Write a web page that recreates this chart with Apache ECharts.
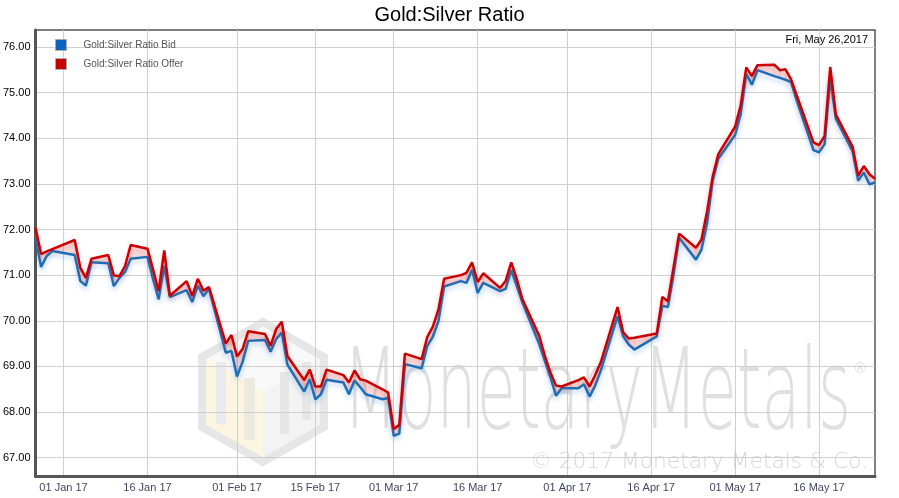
<!DOCTYPE html>
<html>
<head>
<meta charset="utf-8">
<script src="https://cdn.jsdelivr.net/npm/echarts@6/dist/echarts.min.js"></script>
<style>html,body{margin:0;padding:0;background:#fff;}#c{width:899px;height:498px;}</style>
</head>
<body>
<div id="c"></div>
<script>
const dates = ['2016-12-27','2016-12-28','2016-12-29','2016-12-30','2017-01-03','2017-01-04','2017-01-05','2017-01-06','2017-01-09','2017-01-10','2017-01-11','2017-01-12','2017-01-13','2017-01-16','2017-01-17','2017-01-18','2017-01-19','2017-01-20','2017-01-23','2017-01-24','2017-01-25','2017-01-26','2017-01-27','2017-01-30','2017-01-31','2017-02-01','2017-02-02','2017-02-03','2017-02-06','2017-02-07','2017-02-08','2017-02-09','2017-02-10','2017-02-13','2017-02-14','2017-02-15','2017-02-16','2017-02-17','2017-02-20','2017-02-21','2017-02-22','2017-02-23','2017-02-24','2017-02-27','2017-02-28','2017-03-01','2017-03-02','2017-03-03','2017-03-06','2017-03-07','2017-03-08','2017-03-09','2017-03-10','2017-03-13','2017-03-14','2017-03-15','2017-03-16','2017-03-17','2017-03-20','2017-03-21','2017-03-22','2017-03-23','2017-03-24','2017-03-27','2017-03-28','2017-03-29','2017-03-30','2017-03-31','2017-04-03','2017-04-04','2017-04-05','2017-04-06','2017-04-07','2017-04-10','2017-04-11','2017-04-12','2017-04-13','2017-04-17','2017-04-18','2017-04-19','2017-04-20','2017-04-21','2017-04-24','2017-04-25','2017-04-26','2017-04-27','2017-04-28','2017-05-01','2017-05-02','2017-05-03','2017-05-04','2017-05-05','2017-05-08','2017-05-09','2017-05-10','2017-05-11','2017-05-12','2017-05-15','2017-05-16','2017-05-17','2017-05-18','2017-05-19','2017-05-22','2017-05-23','2017-05-24','2017-05-25','2017-05-26'];

const bid = [71.80,71.18,71.42,71.53,71.44,70.87,70.77,71.28,71.26,70.76,70.94,71.07,71.36,71.40,70.91,70.47,71.20,70.52,70.67,70.41,70.77,70.54,70.70,69.30,69.34,68.78,69.10,69.56,69.58,69.32,69.60,69.74,69.04,68.45,68.72,68.28,68.39,68.71,68.65,68.39,68.69,68.55,68.39,68.28,68.31,67.48,67.53,69.05,68.96,69.45,69.65,70.00,70.75,70.87,70.83,71.12,70.61,70.83,70.65,70.70,71.11,70.76,70.40,69.49,69.12,68.76,68.36,68.52,68.52,68.61,68.34,68.58,68.91,70.10,69.66,69.48,69.37,69.66,70.33,70.30,71.01,71.82,71.34,71.56,72.14,73.07,73.55,74.07,74.52,75.41,75.17,75.49,75.36,75.32,75.28,75.23,74.83,73.74,73.69,73.87,75.32,74.43,73.71,73.07,73.25,72.99,73.03];

const offer = [72.04,71.46,71.52,71.57,71.77,71.16,70.94,71.36,71.44,70.99,70.98,71.20,71.66,71.58,71.12,70.65,71.54,70.55,70.87,70.54,70.92,70.66,70.74,69.50,69.69,69.22,69.38,69.77,69.71,69.45,69.82,69.98,69.23,68.70,68.93,68.56,68.56,68.93,68.81,68.65,68.91,68.72,68.69,68.50,68.43,67.63,67.72,69.28,69.16,69.65,69.87,70.25,70.92,71.00,71.05,71.28,70.85,71.04,70.72,70.87,71.28,70.91,70.47,69.67,69.23,68.87,68.58,68.56,68.70,68.76,68.56,68.81,69.09,70.30,69.75,69.61,69.63,69.72,70.52,70.43,71.17,71.91,71.60,71.78,72.40,73.16,73.65,74.25,74.72,75.55,75.36,75.60,75.61,75.49,75.51,75.29,74.94,73.91,73.85,74.05,75.56,74.52,73.81,73.18,73.39,73.21,73.11];

const xTickDates = ['2017-01-01','2017-01-16','2017-02-01','2017-02-15','2017-03-01','2017-03-16','2017-04-01','2017-04-16','2017-05-01','2017-05-16'];
const yTicks = [67,68,69,70,71,72,73,74,75,76];
const monthNames = ['Jan','Feb','Mar','Apr','May','Jun','Jul','Aug','Sep','Oct','Nov','Dec'];
const titleText = 'Gold:Silver Ratio';
const bidName = 'Gold:Silver Ratio Bid';
const offerName = 'Gold:Silver Ratio Offer';
const dateLabel = 'Fri, May 26,2017';
const xMin = '2016-12-27';
const xMax = '2017-05-26';
const yMin = 66.6;
const yMax = 76.37;

const ts = s => echarts.number.parseDate(s).getTime();
const pad = n => (n < 10 ? '0' : '') + n;
const fmtDate = v => { const d = new Date(v); return pad(d.getDate()) + ' ' + monthNames[d.getMonth()] + ' ' + String(d.getFullYear()).slice(2); };

const bidData = dates.map((d, i) => [ts(d), bid[i]]);
const offerData = dates.map((d, i) => [ts(d), offer[i]]);
const bandData = dates.map((d, i) => [ts(d), bid[i], offer[i]]);
const xTicks = xTickDates.map(ts);

const mctx = document.createElement('canvas').getContext('2d');
const wmFont = '"DejaVu Sans", "Liberation Sans", sans-serif';
mctx.font = '200 112px ' + wmFont;
const wmW = mctx.measureText('MonetaryMetals').width;
mctx.font = '200 22px ' + wmFont;
const cpW = mctx.measureText('© 2017 Monetary Metals & Co.').width;

const chart = echarts.init(document.getElementById('c'), null, {renderer: 'canvas'});

const hexCx = 263, hexTop = 322, hexHalfW = 61, hexSide = 70;
const p = {
  t: [hexCx, hexTop],
  ul: [hexCx - hexHalfW, hexTop + hexSide / 2],
  ll: [hexCx - hexHalfW, hexTop + hexSide / 2 + hexSide],
  b: [hexCx, hexTop + 2 * hexSide],
  lr: [hexCx + hexHalfW, hexTop + hexSide / 2 + hexSide],
  ur: [hexCx + hexHalfW, hexTop + hexSide / 2],
  c: [hexCx, hexTop + hexSide]
};

function renderBand(params, api) {
  const i = params.dataIndex;
  if (i >= bandData.length - 1) return null;
  const a1 = api.coord([bandData[i][0], bandData[i][1]]);
  const b1 = api.coord([bandData[i][0], bandData[i][2]]);
  const a2 = api.coord([bandData[i + 1][0], bandData[i + 1][1]]);
  const b2 = api.coord([bandData[i + 1][0], bandData[i + 1][2]]);
  return {
    type: 'polygon',
    shape: {points: [b1, b2, a2, a1]},
    style: {fill: 'rgba(232,120,120,0.25)', stroke: 'rgba(232,120,120,0.25)', lineWidth: 0.5}
  };
}

const option = {
  backgroundColor: '#fff',
  animation: false,
  title: {
    text: titleText, left: 'center', top: 0,
    textStyle: {fontFamily: 'Liberation Sans, Arial, sans-serif', fontSize: 20, fontWeight: 'normal', color: '#000'}
  },
  legend: {
    data: [bidName, offerName],
    orient: 'vertical', left: 50, top: 34,
    itemWidth: 11, itemHeight: 11, itemGap: 7, icon: 'rect',
    itemStyle: {borderColor: '#aaa', borderWidth: 1},
    textStyle: {fontFamily: 'Liberation Sans, Arial, sans-serif', fontSize: 10, color: '#555', padding: [0, 0, 0, 12]}
  },
  grid: {left: 33, right: 24, top: 30, bottom: 22, show: true, borderColor: '#555', borderWidth: 1.5, containLabel: false},
  xAxis: {
    type: 'value', min: ts(xMin), max: ts(xMax),
    axisLine: {show: true, lineStyle: {color: '#555', width: 3}},
    axisTick: {show: false, customValues: xTicks},
    axisLabel: {customValues: xTicks, formatter: fmtDate, color: '#444460', fontSize: 11, margin: 6, fontFamily: 'Liberation Sans, Arial, sans-serif'},
    splitLine: {show: true, lineStyle: {color: '#cfcfcf', width: 1}}
  },
  yAxis: {
    type: 'value', min: yMin, max: yMax,
    axisLine: {show: true, lineStyle: {color: '#555', width: 3}},
    axisTick: {show: false, customValues: yTicks},
    axisLabel: {customValues: yTicks, formatter: v => v.toFixed(2), color: '#000', fontSize: 11, margin: 5, fontFamily: 'Liberation Sans, Arial, sans-serif'},
    splitLine: {show: true, lineStyle: {color: '#cfcfcf', width: 1}}
  },
  graphic: [
    {type: 'polygon', z: 0, silent: true, shape: {points: [p.t, p.ur, p.c, p.ul]}, style: {fill: '#f9f9f9'}},
    {type: 'polygon', z: 0, silent: true, shape: {points: [p.ul, p.c, p.b, p.ll]}, style: {fill: '#fbf5e1'}},
    {type: 'polygon', z: 0, silent: true, shape: {points: [p.c, p.ur, p.lr, p.b]}, style: {fill: '#f3f3f3'}},
    {type: 'rect', z: 0, silent: true, shape: {x: 216, y: 362, width: 10, height: 62}, style: {fill: '#eaeaea'}},
    {type: 'rect', z: 0, silent: true, shape: {x: 244, y: 378, width: 11, height: 62}, style: {fill: '#ece9df'}},
    {type: 'rect', z: 0, silent: true, shape: {x: 280, y: 372, width: 9, height: 62}, style: {fill: '#e6e6e6'}},
    {type: 'rect', z: 0, silent: true, shape: {x: 302, y: 362, width: 9, height: 58}, style: {fill: '#e6e6e6'}},
    {type: 'polygon', z: 0, silent: true, shape: {points: [p.t, p.ur, p.lr, p.b, p.ll, p.ul]}, style: {fill: 'none', stroke: '#e6e6e6', lineWidth: 8, lineJoin: 'miter'}},
    {type: 'text', z: 0, silent: true, x: 343, y: 343, scaleX: 508 / wmW, originX: 0,
      style: {text: 'MonetaryMetals', fill: '#e0e0e0', font: '200 112px ' + wmFont, verticalAlign: 'top'}},
    {type: 'text', z: 0, silent: true, x: 860, y: 369,
      style: {text: '®', fill: '#dcdcdc', font: '14px ' + wmFont, align: 'center', verticalAlign: 'middle'}},
    {type: 'text', z: 0, silent: true, x: 868, y: 462, scaleX: 338 / cpW, originX: 0,
      style: {text: '© 2017 Monetary Metals & Co.', fill: '#d6d6d6', font: '200 22px ' + wmFont, align: 'right', verticalAlign: 'middle'}},
    {type: 'text', z: 50, silent: true, x: 868, y: 40,
      style: {text: dateLabel, fill: '#000', font: '11px "Liberation Sans", Arial, sans-serif', align: 'right', verticalAlign: 'middle'}}
  ],
  series: [
    {name: 'band', type: 'custom', data: bandData, renderItem: renderBand, silent: true, z: 2,
      encode: {x: 0, y: [1, 2]}},
    {name: bidName, type: 'line', data: bidData, symbol: 'none', z: 4,
      itemStyle: {color: '#0a66c2'},
      lineStyle: {color: '#1a70b8', width: 2.5, shadowColor: 'rgba(40,130,220,0.35)', shadowBlur: 5, shadowOffsetY: 3}},
    {name: offerName, type: 'line', data: offerData, symbol: 'none', z: 5,
      itemStyle: {color: '#c80000'},
      lineStyle: {color: '#cc0000', width: 2.5, shadowColor: 'rgba(220,60,60,0.3)', shadowBlur: 5, shadowOffsetY: 3}}
  ]
};
chart.setOption(option);
</script>
</body>
</html>
